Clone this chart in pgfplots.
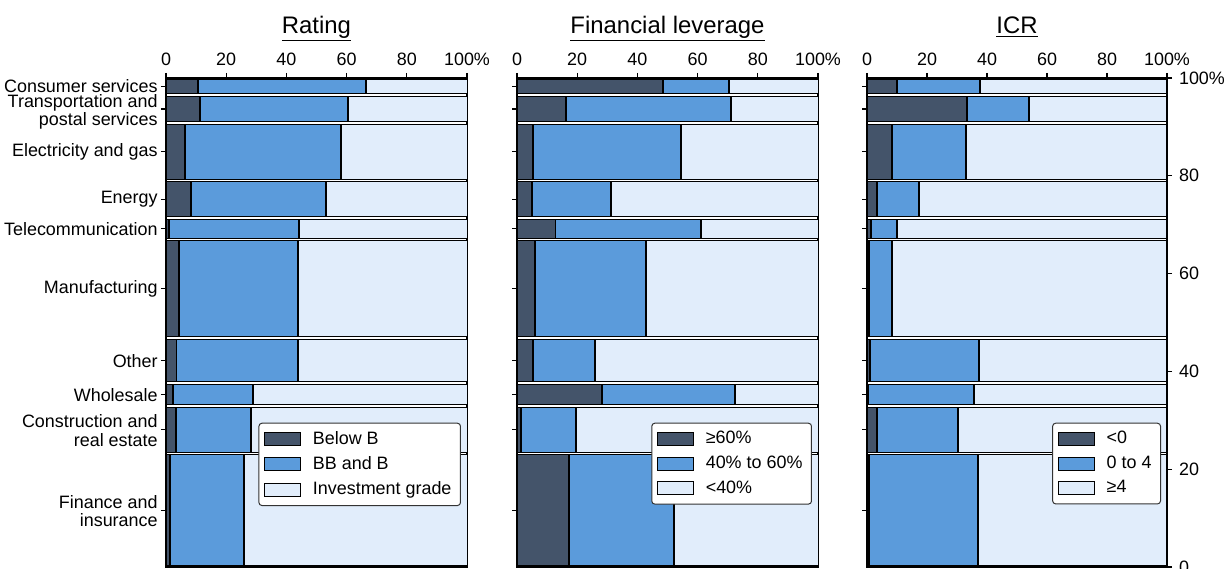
\documentclass[border=0pt]{standalone}
\usepackage{pgfplots}
\usepackage{pgfplotstable}
\pgfplotsset{compat=1.18}
\usepackage{fontspec}
\setmainfont{Liberation Sans}

\definecolor{cdark}{RGB}{68,84,106}
\definecolor{cmid}{RGB}{91,155,219}
\definecolor{clight}{RGB}{225,237,251}

% row bounds (share of loans, %) and cumulative segment ends per panel
% r = rating, f = financial leverage, i = ICR ; 1 = end of dark, 2 = end of mid
\pgfplotstableread{
y0   y1    r1   r2   f1   f2   i1   i2
96.5 100   10.7 66.4 48.4 70.5 9.9  37.8
90.8 96.5  11.3 60.6 16.3 71.2 33.3 54.1
79.0 90.8  6.3  58.0 5.4  54.6 8.4  33.1
71.4 79.0  8.3  53.2 5.1  31.3 3.4  17.3
67.0 71.4  1.0  44.2 12.8 61.2 1.4  9.9
46.8 67.0  4.4  44.0 5.9  43.0 0.8  8.2
37.6 46.8  3.5  44.0 5.4  25.9 1.1  37.2
32.9 37.6  2.4  28.8 28.2 72.4 0.4  35.8
23.2 32.9  3.2  28.2 1.4  19.7 3.4  30.3
0    23.2  1.3  25.9 17.2 52.3 0.6  37.0
}\loans

\newcommand{\mekko}[2]{%
  \pgfplotsforeachungrouped \rr in {0,...,9}{%
    \pgfplotstablegetelem{\rr}{y0}\of\loans \pgfmathsetmacro\ya{\pgfplotsretval+0.25}%
    \pgfplotstablegetelem{\rr}{y1}\of\loans \pgfmathsetmacro\yb{\pgfplotsretval-0.25}%
    \pgfplotstablegetelem{\rr}{#1}\of\loans \pgfmathsetmacro\xa{\pgfplotsretval-0.15}%
    \pgfmathsetmacro\xb{\pgfplotsretval+0.15}%
    \pgfplotstablegetelem{\rr}{#2}\of\loans \pgfmathsetmacro\xc{\pgfplotsretval-0.15}%
    \pgfmathsetmacro\xd{\pgfplotsretval+0.15}%
    \edef\cmd{%
      \noexpand\addplot[seg, fill=cdark] coordinates {(0,\ya) (\xa,\ya) (\xa,\yb) (0,\yb)} -- cycle;
      \noexpand\addplot[seg, fill=cmid] coordinates {(\xb,\ya) (\xc,\ya) (\xc,\yb) (\xb,\yb)} -- cycle;
      \noexpand\addplot[seg, fill=clight] coordinates {(\xd,\ya) (100,\ya) (100,\yb) (\xd,\yb)} -- cycle;
    }\cmd
  }}

% two-line sector label, set a little lower than its box
\newcommand{\two}[2]{\raisebox{-1.75bp}[\height][\depth]{\begin{tabular}{@{}r@{}}#1\\#2\end{tabular}}}

\pgfplotsset{
  seg/.style={forget plot, draw=black, line width=0.5pt, mark=none},
  panel/.style={
    scale only axis, width=150.5bp, height=244.5bp, anchor=south west,
    xmin=0, xmax=100, ymin=0, ymax=100,
    axis line style={line width=0.8pt, black},
    xtick={0,20,40,60,80,100}, xticklabels={0,20,40,60,80,100\%},
    xtick pos=right, xticklabel pos=right, ytick pos=left,
    ytick={11.6,28.05,35.25,42.2,56.9,69.2,75.2,84.9,93.65,98.25},
    yticklabels={},
    tick align=outside, major tick length=2.5bp,
    tick style={black, line width=0.6pt},
    ticklabel style={font=\fontsize{9}{9.2}\selectfont},
    title style={at={(0.5,1)}, anchor=base, yshift=16.5bp, font=\fontsize{12}{14}\selectfont},
    legend style={at={(0.98,0.295)}, anchor=north east, draw=black!80,
      rounded corners=1.5pt, line width=0.5pt,
      font=\fontsize{9}{10}\selectfont, cells={anchor=west},
      row sep=0.6bp, inner xsep=2.5bp, inner ysep=2bp},
    legend image code/.code={\draw[#1, sharp corners, line width=0.5pt] (0bp,-3.25bp) rectangle (18bp,3.25bp);
      \path (22bp,0bp);},
  },
}

\begin{document}
\begin{tikzpicture}
\path[use as bounding box] (0bp,0bp) rectangle (612.5bp,284.5bp);

\begin{axis}[panel, at={(83bp,1bp)}, title={\underline{Rating}},
  yticklabels={{\two{Finance and}{insurance}},{\two{Construction and}{real estate}},Wholesale,Other,Manufacturing,Telecommunication,Energy,Electricity and gas,{\two{Transportation and}{postal services}},Consumer services},
  yticklabel style={inner xsep=1.5bp}]
\mekko{r1}{r2}
\addlegendimage{fill=cdark, draw=black}\addlegendentry{Below B}
\addlegendimage{fill=cmid, draw=black}\addlegendentry{BB and B}
\addlegendimage{fill=clight, draw=black}\addlegendentry{Investment grade}
\end{axis}

\begin{axis}[panel, at={(258.5bp,1bp)}, title={\underline{Financial leverage}}]
\mekko{f1}{f2}
\addlegendimage{fill=cdark, draw=black}\addlegendentry{≥60\%}
\addlegendimage{fill=cmid, draw=black}\addlegendentry{40\% to 60\%}
\addlegendimage{fill=clight, draw=black}\addlegendentry{<40\%}
\end{axis}

\begin{axis}[panel, at={(433.5bp,1bp)}, width=150bp, title={\underline{ICR}}]
\mekko{i1}{i2}
\addlegendimage{fill=cdark, draw=black}\addlegendentry{<0}
\addlegendimage{fill=cmid, draw=black}\addlegendentry{0 to 4}
\addlegendimage{fill=clight, draw=black}\addlegendentry{≥4}
\end{axis}

\begin{axis}[scale only axis, width=150bp, height=244.5bp, at={(433.5bp,1bp)}, anchor=south west,
  xmin=0, xmax=100, ymin=0, ymax=100,
  axis x line=none, axis y line*=right,
  axis line style={line width=0.8pt, black},
  ytick={0,20,40,60,80,100}, yticklabels={0,20,40,60,80,100\%},
  tick align=outside, major tick length=2.5bp,
  tick style={black, line width=0.6pt},
  ticklabel style={font=\fontsize{9}{9.2}\selectfont}]
\end{axis}
\end{tikzpicture}
\end{document}
